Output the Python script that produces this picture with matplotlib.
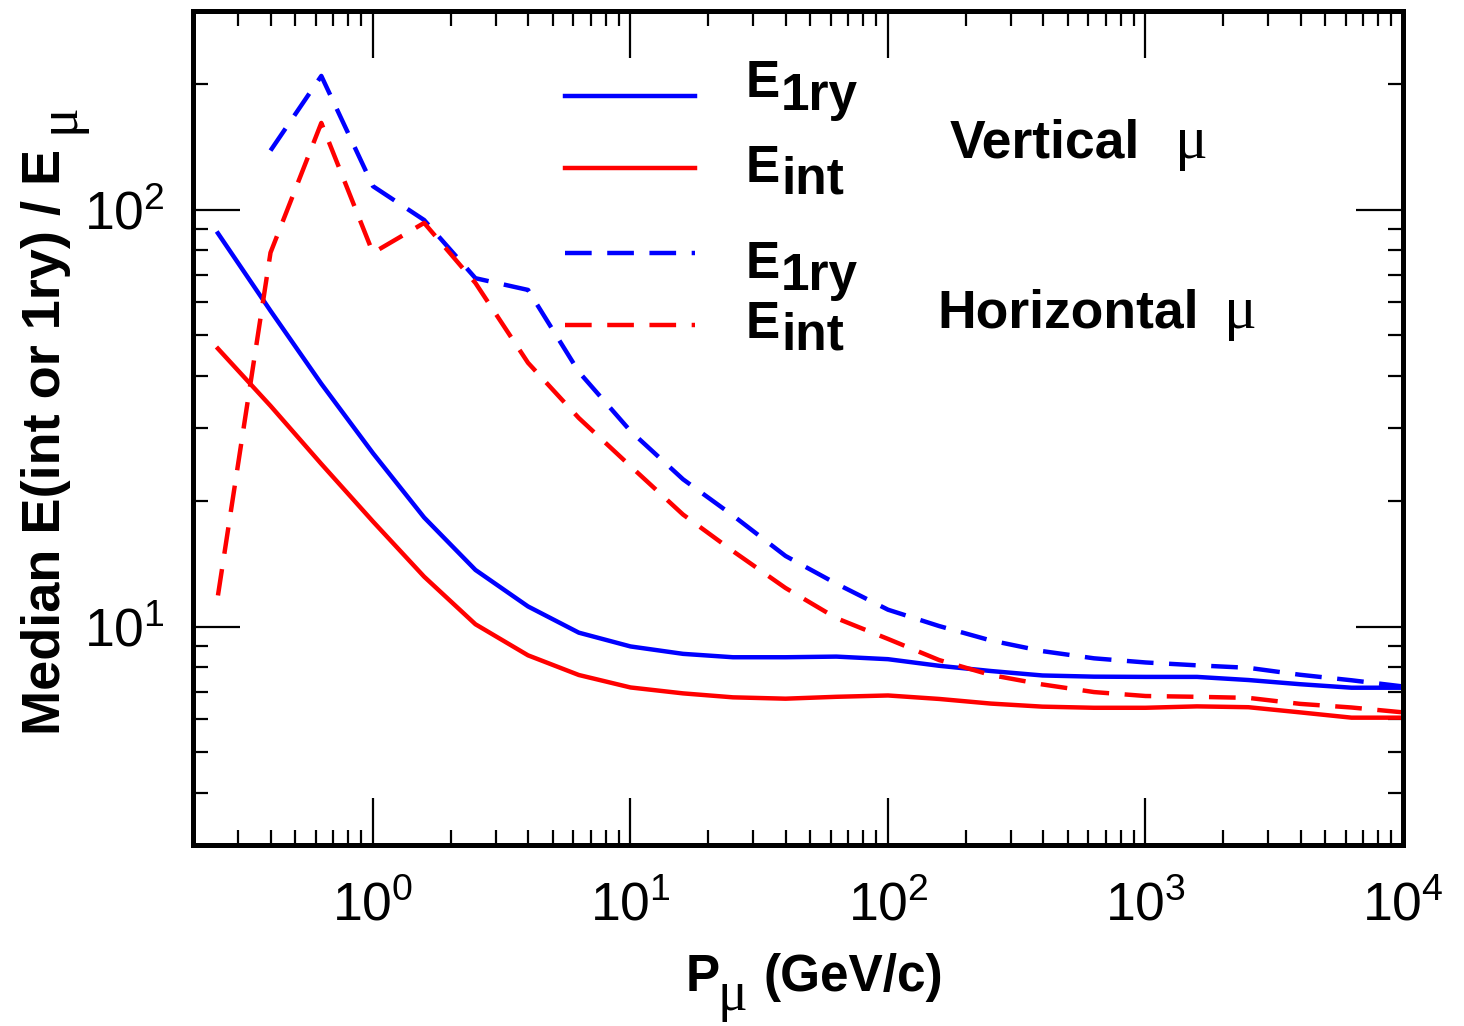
import matplotlib
matplotlib.use("Agg")
import matplotlib.pyplot as plt
from matplotlib.ticker import LogLocator, NullFormatter, LogFormatterSciNotation

plt.rcParams['font.family'] = ['Liberation Sans', 'DejaVu Sans']
plt.rcParams['mathtext.fontset'] = 'custom'
plt.rcParams['mathtext.rm'] = 'Liberation Sans'
plt.rcParams['mathtext.bf'] = 'Liberation Sans:bold'

# muon momentum (GeV/c)
p_mu = [0.25, 0.4, 0.63, 1.0, 1.58, 2.5, 4.0, 6.3, 10, 16, 25, 40, 63, 100,
        158, 251, 398, 631, 1000, 1585, 2512, 3981, 6310, 10000]

# vertical muons
vert_1ry = [87.9, 57.3, 38.3, 26.1, 18.3, 13.7, 11.2, 9.69, 8.98, 8.62, 8.46, 8.46,
            8.49, 8.37, 8.07, 7.84, 7.65, 7.60, 7.59, 7.59, 7.46, 7.29, 7.15, 7.15]
vert_int = [46.5, 33.9, 24.6, 17.9, 13.2, 10.15, 8.55, 7.67, 7.16, 6.93, 6.78, 6.73,
            6.80, 6.85, 6.72, 6.55, 6.44, 6.40, 6.40, 6.45, 6.42, 6.24, 6.06, 6.06]

# horizontal muons (1ry curve starts at 0.4 GeV/c)
p_horiz_1ry = p_mu[1:]
horiz_1ry = [138.8, 209.6, 114.0, 94.6, 68.6, 64.3, 40.9, 29.5, 22.6, 18.5, 14.8,
             12.7, 11.0, 10.05, 9.28, 8.75, 8.41, 8.22, 8.09, 7.98, 7.68, 7.45, 7.20]
horiz_int = [11.9, 79.0, 161.7, 78.9, 93.1, 66.8, 43.0, 31.7, 24.3, 18.6, 15.2, 12.4,
             10.5, 9.36, 8.33, 7.67, 7.28, 6.98, 6.83, 6.80, 6.76, 6.54, 6.41, 6.24]

W, H = 1464, 1026
fig = plt.figure(figsize=(W / 100, H / 100), dpi=100)
ax = fig.add_axes([193 / W, 1 - 845 / H, 1210 / W, 834 / H])

lw = 3.2
dash = (6, 3.5)
ax.plot(p_mu, vert_1ry, color='#0000ff', lw=lw)
ax.plot(p_mu, vert_int, color='#ff0000', lw=lw)
ax.plot(p_horiz_1ry, horiz_1ry, color='#0000ff', lw=lw, dashes=dash, dash_capstyle='butt')
ax.plot(p_mu, horiz_int, color='#ff0000', lw=lw, dashes=dash, dash_capstyle='butt')

ax.set_xscale('log')
ax.set_yscale('log')
ax.set_xlim(0.2, 1e4)
ax.set_ylim(3, 300)

for axis in (ax.xaxis, ax.yaxis):
    axis.set_major_locator(LogLocator(base=10, numticks=20))
    axis.set_minor_locator(LogLocator(base=10, subs=range(2, 10), numticks=20))
    axis.set_minor_formatter(NullFormatter())
    axis.set_major_formatter(LogFormatterSciNotation())

ax.tick_params(which='both', direction='in', top=True, right=True, width=1.6)
ax.tick_params(which='major', length=34, labelsize=38.5)
ax.tick_params(which='minor', length=11)
ax.tick_params(axis='x', which='major', pad=26)
ax.tick_params(axis='y', which='major', pad=20)
for s in ax.spines.values():
    s.set_linewidth(3.6)


def px(x, y):
    return x / W, 1 - y / H


# legend keys (axes fraction)
def key(y, color, dashed):
    fx0 = (565 - 193) / 1210
    fx1 = (695 - 193) / 1210
    fy = (845 - y) / 834
    kw = dict(dashes=dash, dash_capstyle='butt') if dashed else {}
    ax.plot([fx0, fx1], [fy, fy], transform=ax.transAxes, color=color, lw=lw, **kw)


key(96, '#0000ff', False)
key(168, '#ff0000', False)
key(253, '#0000ff', True)
key(325, '#ff0000', True)

tfs = 37
bold = dict(fontsize=tfs, fontweight='bold', va='baseline', ha='left')
serif = ['Liberation Serif', 'DejaVu Serif']
mu_kw = dict(family=serif, fontsize=44, va='baseline', ha='left')

for (ey, sub, sy) in [(97, '1ry', 110), (182, 'int', 193), (278, '1ry', 290), (338, 'int', 350)]:
    fig.text(*px(746, ey), 'E', **bold)
    fig.text(*px(781, sy), sub, **bold)

fig.text(*px(950, 157), 'Vertical', fontsize=38.5, fontweight='bold', va='baseline', ha='left')
fig.text(*px(1175, 158), 'μ', **mu_kw)
fig.text(*px(937, 327), 'Horizontal', fontsize=38.5, fontweight='bold', va='baseline', ha='left')
fig.text(*px(1224, 328), 'μ', **mu_kw)

# x label
fig.text(*px(686, 991), 'P', **bold)
fig.text(*px(718, 1010), 'μ', family=serif, fontsize=40, va='baseline', ha='left')
fig.text(*px(764, 991), '(GeV/c)', **bold)

# y label
fig.text(*px(60, 735), 'Median E(int or 1ry) / E', fontsize=39, fontweight='bold',
         rotation=90, rotation_mode='anchor', ha='left', va='baseline')
fig.text(*px(73, 133), 'μ', family=serif, fontsize=40,
         rotation=90, rotation_mode='anchor', ha='left', va='baseline')

fig.savefig('out.png', dpi=100)
